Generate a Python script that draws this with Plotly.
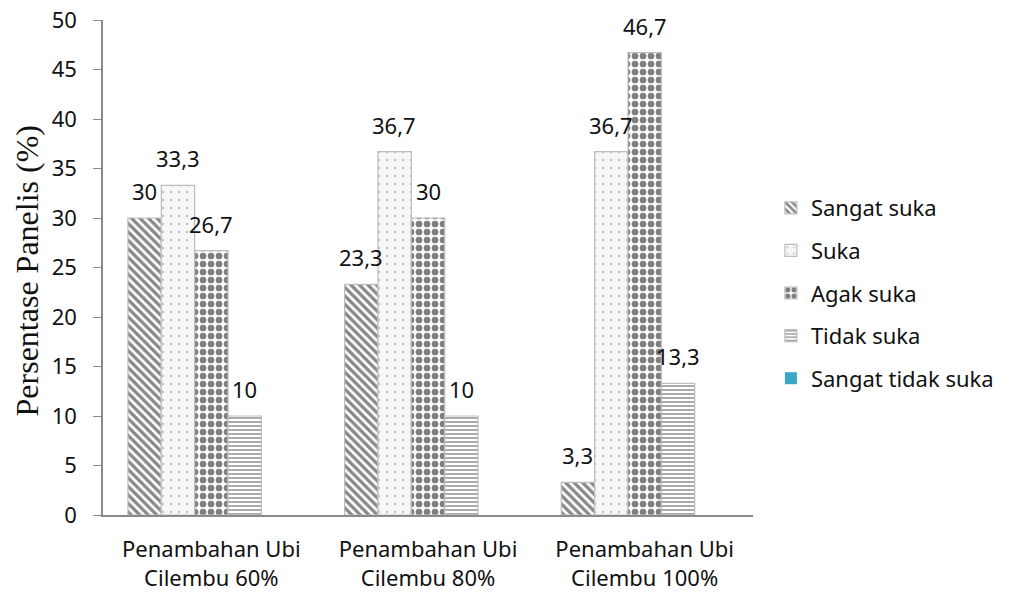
import plotly.graph_objects as go

categories = ["Penambahan Ubi<br>Cilembu 60%", "Penambahan Ubi<br>Cilembu 80%", "Penambahan Ubi<br>Cilembu 100%"]
series_names = ["Sangat suka", "Suka", "Agak suka", "Tidak suka", "Sangat tidak suka"]
sangat_suka = [30, 23.3, 3.3]
suka = [33.3, 36.7, 36.7]
agak_suka = [26.7, 30, 46.7]
tidak_suka = [10, 10, 13.3]
sangat_tidak_suka = [0, 0, 0]
y_ticks = [0, 5, 10, 15, 20, 25, 30, 35, 40, 45, 50]

values = [sangat_suka, suka, agak_suka, tidak_suka, sangat_tidak_suka]

styles = [
    dict(bgcolor="white", fgcolor="#111111", shape="\\", size=6, solidity=0.55),
    dict(bgcolor="#f7f7f7", fgcolor="#8a8a8a", shape=".", size=8, solidity=0.08),
    dict(bgcolor="white", fgcolor="#000000", shape=".", size=8, solidity=0.55),
    dict(bgcolor="white", fgcolor="#444444", shape="-", size=4, solidity=0.45),
    None,
]

FONT = "Noto Sans"
FS = 22
fig = go.Figure()
for i, (name, vals) in enumerate(zip(series_names, values)):
    st = styles[i]
    if st is None:
        marker = dict(color="#3aa6c8", line=dict(width=0))
    else:
        marker = dict(color=st["bgcolor"], pattern=st,
                      line=dict(color="#bdbdbd", width=1.2))
    fig.add_trace(go.Bar(x=categories, y=vals, name=name, marker=marker,
                         legendgroup=name))

# data labels
L, R, T, B = 103, 254, 20, 79
W = 1011 - L - R
H = 594 - T - B
bargap = 0.23
bar_px = W / 3 * (1 - bargap) / 5
for i, vals in enumerate(values[:4]):
    for c, v in zip(categories, vals):
        fig.add_annotation(x=c, y=v, xref="x", yref="y",
                           text=(f"{v:g}").replace(".", ","),
                           showarrow=False, xshift=(i - 2) * bar_px, yshift=27,
                           yanchor="middle", xanchor="center",
                           font=dict(family=FONT, size=FS, color="#111111"))

fig.add_annotation(text="Persentase Panelis (%)", xref="paper", yref="paper",
                   x=(27 - L) / W, y=1 - (271 - T) / H, textangle=-90, showarrow=False,
                   xanchor="center", yanchor="middle",
                   font=dict(family="Liberation Serif", size=32, color="#111111"))

fig.update_layout(
    width=1011, height=594,
    margin=dict(l=L, r=R, t=T, b=B),
    plot_bgcolor="white", paper_bgcolor="white",
    barmode="group", bargap=bargap, bargroupgap=0,
    separators=",.",
    showlegend=True,
    legend=dict(x=(775 - L) / W, xanchor="left", y=1 - (293 - T) / H,
                yanchor="middle", font=dict(family=FONT, size=FS, color="#111111"),
                tracegroupgap=11, itemwidth=30, traceorder="grouped"),
    xaxis=dict(showline=True, linecolor="#8a8a8a", linewidth=1.5, ticks="",
               tickfont=dict(family=FONT, size=FS, color="#111111"),
               ticklabelstandoff=14, showgrid=False, automargin=False),
    yaxis=dict(range=[0, 50], tickvals=y_ticks, showline=True, linecolor="#8a8a8a",
               linewidth=1.5, ticks="outside", ticklen=8, tickcolor="#8a8a8a",
               tickwidth=1.2, ticklabelstandoff=12, automargin=False,
               tickfont=dict(family=FONT, size=FS, color="#111111"),
               showgrid=False, zeroline=False),
)

fig.write_html("out.html")
